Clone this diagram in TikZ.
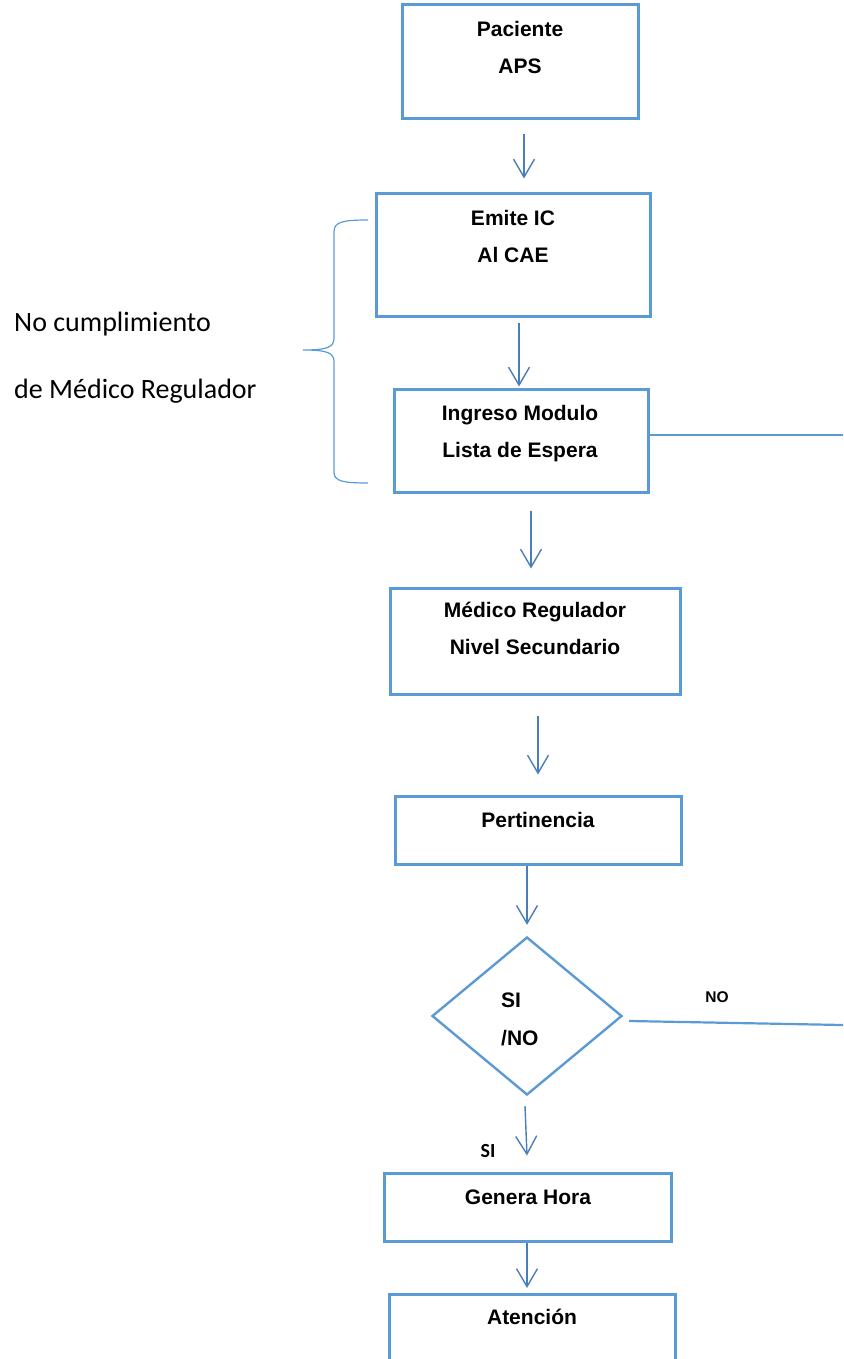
\documentclass[tikz,border=0pt]{standalone}
\usepackage{fontspec}
\setmainfont{Liberation Sans}
\newfontfamily\calibrifont{Carlito}
\usetikzlibrary{arrows.meta,shapes.geometric}
\definecolor{boxblue}{RGB}{91,155,213}
\definecolor{arrblue}{RGB}{74,126,187}
\tikzset{
  flowbox/.style={draw=boxblue, line width=3pt, rectangle, inner sep=0pt, fill=none},
  boxtext/.style={inner sep=0pt, align=center, font=\bfseries\fontsize{21}{37}\selectfont},
  flowarrow/.style={draw=arrblue, line width=1.4pt, -{Straight Barb[length=18pt,width=21pt,line width=1.4pt]}},
  sideline/.style={draw=boxblue, line width=2.2pt},
  bracestyle/.style={draw=boxblue, line width=1.2pt}
}
\begin{document}
\begin{tikzpicture}[x=1pt,y=-1pt]
\useasboundingbox (0,0) rectangle (843,1359);
\clip (0,0) rectangle (843,1359);
% boxes
\node[flowbox, minimum width=236pt, minimum height=114pt] (pac) at (520,62) {};
\node[flowbox, minimum width=274pt, minimum height=122pt] (emi) at (513,255) {};
\node[flowbox, minimum width=254pt, minimum height=103pt] (ing) at (521,440.5) {};
\node[flowbox, minimum width=290pt, minimum height=106pt] (med) at (535,641) {};
\node[flowbox, minimum width=286pt, minimum height=68pt] (per) at (538,830) {};
\node[flowbox, diamond, minimum width=190pt, minimum height=158pt, line width=2.4pt] (dia) at (527,1016) {};
\node[flowbox, minimum width=287pt, minimum height=68pt] (gen) at (527.5,1207) {};
\node[flowbox, minimum width=286pt, minimum height=95pt, anchor=north] (ate) at (532,1293) {};
% texts (base anchor = baseline of the last line)
\node[boxtext, anchor=base] (pact) at (520,73.5) {Paciente\\APS};
\node[boxtext, anchor=base] (emit) at (513,262.5) {Emite IC\\Al CAE};
\node[boxtext, anchor=base] (ingt) at (520,457.5) {Ingreso Modulo\\Lista de Espera};
\node[boxtext, anchor=base] (medt) at (535,654.5) {Médico Regulador\\Nivel Secundario};
\node[boxtext, anchor=base] (pert) at (538,827.5) {Pertinencia};
\node[boxtext, anchor=base west, align=left, font=\bfseries\fontsize{21}{38}\selectfont] (diat) at (501,1045.5) {SI\\/NO};
\node[boxtext, anchor=base] (gent) at (528,1204.5) {Genera Hora};
\node[boxtext, anchor=base] (atet) at (532,1324.5) {Atención};
% labels
\node[inner sep=0pt, anchor=base, font=\bfseries\fontsize{15.5}{18}\selectfont] (nolbl) at (717,1002.5) {NO};
\node[inner sep=0pt, anchor=base, font=\calibrifont\bfseries\fontsize{20}{24}\selectfont] (silbl) at (488,1157) {SI};
\node[inner sep=0pt, anchor=base west, font=\calibrifont\fontsize{28}{34}\selectfont] (nc1) at (14,331) {No cumplimiento};
\node[inner sep=0pt, anchor=base west, font=\calibrifont\fontsize{28}{34}\selectfont] (nc2) at (14,398) {de Médico Regulador};
% arrows
\draw[flowarrow] ([shift={(4,14)}]pac.south) -- ([shift={(11,-14)}]emi.north);
\draw[flowarrow] ([shift={(6,5)}]emi.south) -- ([shift={(-2,-1)}]ing.north);
\draw[flowarrow] ([shift={(10,17)}]ing.south) -- ([shift={(-4,-18)}]med.north);
\draw[flowarrow] ([shift={(3,20)}]med.south) -- ([shift={(0,-20)}]per.north);
\draw[flowarrow] ([shift={(-11,0)}]per.south) -- ([shift={(0,-11)}]dia.north);
\draw[flowarrow] ([shift={(-2,10)}]dia.south) -- ([shift={(-0.5,-16)}]gen.north);
\draw[flowarrow] ([shift={(-0.5,0)}]gen.south) -- ([shift={(-5,-5)}]ate.north);
% side lines
\coordinate (r1) at (843,435);
\coordinate (r2) at (843,1025);
\draw[sideline] (ing.east |- r1) -- (r1);
\draw[sideline] ([shift={(6,5)}]dia.east) -- (r2);
% brace
\draw[bracestyle] (368,220) .. controls (342,220) and (334,222) .. (334,232) -- (334,338)
  .. controls (334,347) and (328,350) .. (303,350)
  .. controls (328,350) and (334,353) .. (334,362) -- (334,472)
  .. controls (334,481) and (342,483) .. (368,483);
\end{tikzpicture}
\end{document}
